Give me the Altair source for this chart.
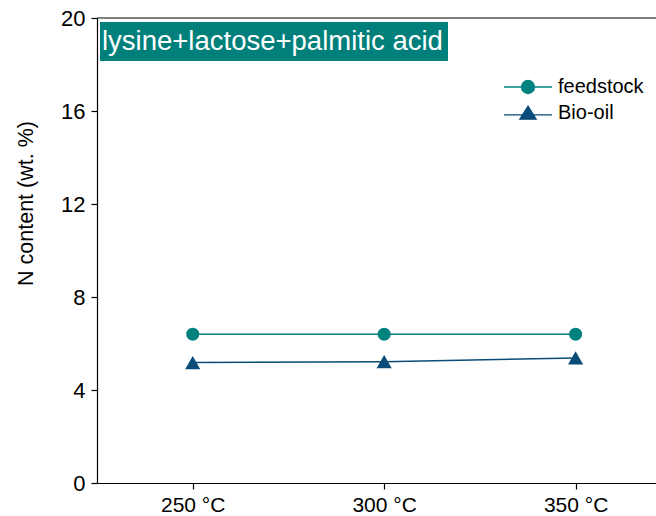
import altair as alt
import pandas as pd

temps = [250, 300, 350]
feedstock = [6.4, 6.4, 6.4]
bio_oil = [5.18, 5.22, 5.38]
series_names = ["feedstock", "Bio-oil"]
colors = ["#00827f", "#0a4b78"]
y_ticks = [0, 4, 8, 12, 16, 20]
panel_label = "lysine+lactose+palmitic acid"

df = pd.DataFrame({
    "temp": temps * 2,
    "value": feedstock + bio_oil,
    "series": [series_names[0]] * 3 + [series_names[1]] * 3,
})

font = "Liberation Sans, Arial"

x = alt.X("temp:Q", scale=alt.Scale(domain=[225, 371], nice=False, zero=False),
          axis=alt.Axis(values=temps, labelExpr="datum.value + ' °C'", title=None, grid=False,
                        tickSize=6, labelPadding=5, labelFontSize=21, labelFont=font,
                        domainColor="black", tickColor="black", labelColor="black"))
y = alt.Y("value:Q", scale=alt.Scale(domain=[0, 20], nice=False),
          axis=alt.Axis(values=y_ticks, title="N content (wt. %)", grid=False,
                        tickSize=6, labelPadding=6, labelFontSize=22, labelFont=font,
                        titleFont=font, titleFontSize=21.5, titleFontWeight="normal",
                        titlePadding=23, titleY=185, domainColor="black", tickColor="black",
                        labelColor="black", titleColor="black"))

legend_paths = [
    "M-3.7,0H-1M1,0H3.7M-1,0A1,1 0 1,0 1,0A1,1 0 1,0 -1,0Z",
    "M-3.7,0.3H3.7M0,-1.05L1.25,0.95L-1.25,0.95Z",
]
leg = alt.Legend(title=None, orient="none", legendX=421, legendY=59,
                 symbolOpacity=1, symbolStrokeWidth=1.3, symbolSize=169,
                 labelOffset=20, labelFontSize=20, labelFont=font,
                 labelColor="black", rowPadding=6, padding=0)
color = alt.Color("series:N", scale=alt.Scale(domain=series_names, range=colors), legend=leg)
shape = alt.Shape("series:N", scale=alt.Scale(domain=series_names, range=legend_paths), legend=leg)

base = alt.Chart(df)

lines = base.mark_line(strokeWidth=1.5).encode(x=x, y=y, color=color, detail="series:N")

pts_feed = base.transform_filter(alt.datum.series == series_names[0]).mark_point(
    filled=True, opacity=1, shape="circle", size=170).encode(x=x, y=y, color=color)
pts_bio = base.transform_filter(alt.datum.series == series_names[1]).mark_point(
    filled=True, opacity=1, shape="triangle-up", size=230).encode(x=x, y=y, color=color)

legend_layer = base.mark_point(filled=True, opacity=0).encode(
    x=x, y=y, color=color, shape=shape)

top_border = alt.Chart(pd.DataFrame({"y": [20]})).mark_rule(color="black", strokeWidth=1.2).encode(
    y=alt.Y("y:Q", scale=alt.Scale(domain=[0, 20], nice=False)))

label_box = alt.Chart(pd.DataFrame({"t": [panel_label]})).mark_rect(color="#007f7b").encode(
    x=alt.value(3), x2=alt.value(351), y=alt.value(4), y2=alt.value(43))
label_text = alt.Chart(pd.DataFrame({"t": [panel_label]})).mark_text(
    color="white", fontSize=27.5, font=font, align="left", baseline="middle").encode(
    x=alt.value(5), y=alt.value(24), text="t:N")

chart = alt.layer(top_border, lines, pts_feed, pts_bio, legend_layer, label_box, label_text).properties(
    width=559, height=465,
    autosize=alt.AutoSizeParams(type="none"),
    padding={"left": 97, "top": 18, "right": 0, "bottom": 33},
).configure_view(stroke=None).configure_axis(domainWidth=1.2, tickWidth=1.2).configure_legend(
    orient="none", legendX=421, legendY=59
)

chart.save("out.html", embed_options={"renderer": "svg", "actions": False})
